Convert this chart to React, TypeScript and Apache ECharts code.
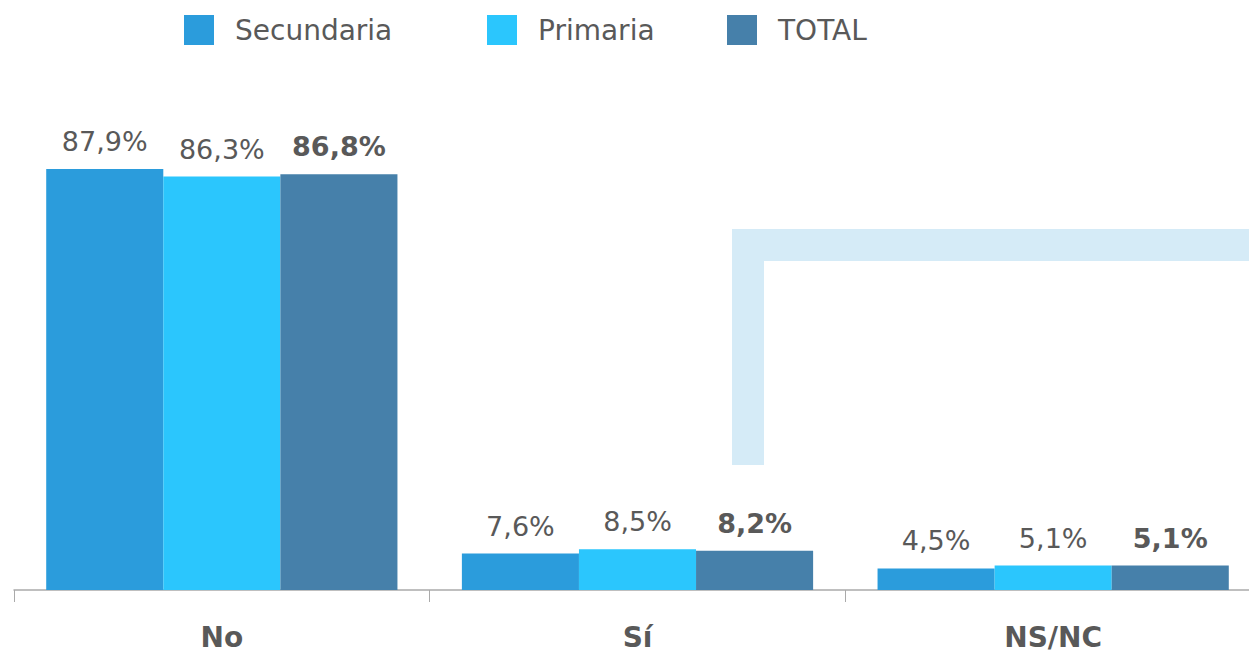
import React, { useEffect, useRef } from "react";
import * as echarts from "echarts";

const categories = ["No", "Sí", "NS/NC"];
const secundaria = [87.9, 7.6, 4.5];
const primaria = [86.3, 8.5, 5.1];
const total = [86.8, 8.2, 5.1];
const seriesNames = ["Secundaria", "Primaria", "TOTAL"];
const colors = ["#2b9cdc", "#2bc6fd", "#4680aa"];
const legendLefts = [184, 487, 727];

const fmt = (v: number) => v.toFixed(1).replace(".", ",") + "%";

export default function App() {
  const ref = useRef<HTMLDivElement>(null);
  useEffect(() => {
    if (!ref.current) return;
    const chart = echarts.init(ref.current, undefined, { renderer: "svg" });
    const font = "'DejaVu Sans', sans-serif";
    const mk = (name: string, data: number[], color: string, bold: boolean) => ({
      name,
      type: "bar",
      data,
      barGap: "0%",
      barCategoryGap: "15.5%",
      itemStyle: { color },
      label: {
        show: true,
        position: "top",
        distance: 14,
        formatter: (p: any) => fmt(p.value),
        color: "#595959",
        fontSize: 27,
        fontWeight: bold ? "bold" : "normal",
        fontFamily: font,
      },
    });
    chart.setOption({
      animation: false,
      legend: seriesNames.map((n, i) => ({
        data: [n],
        left: legendLefts[i],
        top: 15,
        padding: 0,
        itemWidth: 30,
        itemHeight: 30,
        icon: "rect",
        selectedMode: false,
        textStyle: { color: "#595959", fontSize: 28, fontFamily: font, padding: [0, 0, 0, 16] },
      })),
      grid: { left: 14, top: 111, right: 1, bottom: 63, containLabel: false },
      xAxis: {
        type: "category",
        data: categories,
        axisLine: { lineStyle: { color: "#aaaaaa", width: 1.5 } },
        axisTick: { show: true, length: 12, lineStyle: { color: "#aaaaaa" } },
        axisLabel: {
          color: "#595959",
          fontSize: 28,
          fontWeight: "bold",
          fontFamily: font,
          margin: 33,
        },
      },
      yAxis: { type: "value", min: 0, max: 100, show: false, splitLine: { show: false } },
      graphic: [
        { type: "rect", z: 0, shape: { x: 732, y: 229, width: 530, height: 32 }, style: { fill: "#d5ebf7" } },
        { type: "rect", z: 0, shape: { x: 732, y: 229, width: 32, height: 236 }, style: { fill: "#d5ebf7" } },
      ],
      series: [
        mk(seriesNames[0], secundaria, colors[0], false),
        mk(seriesNames[1], primaria, colors[1], false),
        mk(seriesNames[2], total, colors[2], true),
      ],
    });
    return () => chart.dispose();
  }, []);
  return (
    <div style={{ width: 1249, height: 653, position: "absolute", left: 0, top: 0, overflow: "hidden" }}>
      <div ref={ref} style={{ width: 1262, height: 653 }} />
    </div>
  );
}
